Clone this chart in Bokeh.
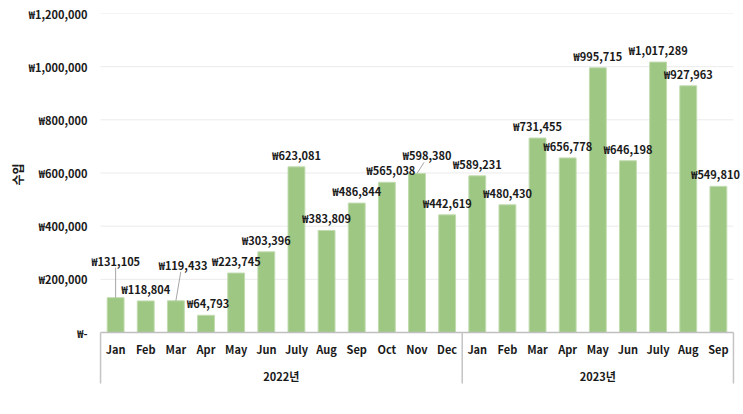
from bokeh.plotting import figure
from bokeh.models import FactorRange, ColumnDataSource, FixedTicker, CategoricalAxis, Title
from bokeh.embed import file_html
from bokeh.resources import INLINE
from bokeh.core.properties import value

# ---- data ----
years = ["2022년"] * 12 + ["2023년"] * 9
months = ["Jan", "Feb", "Mar", "Apr", "May", "Jun", "July", "Aug", "Sep", "Oct", "Nov", "Dec",
          "Jan", "Feb", "Mar", "Apr", "May", "Jun", "July", "Aug", "Sep"]
income = [131105, 118804, 119433, 64793, 223745, 303396, 623081, 383809, 486844, 565038, 598380, 442619,
          589231, 480430, 731455, 656778, 995715, 646198, 1017289, 927963, 549810]
y_ticks = [0, 200000, 400000, 600000, 800000, 1000000, 1200000]
y_tick_labels = ["₩-", "₩200,000", "₩400,000", "₩600,000", "₩800,000", "₩1,000,000", "₩1,200,000"]
y_title = "수입"

# ---- layout helpers (pixels) ----
PAD = 0.3                           # side padding, in categories
FRAME_W, FRAME_H = 651, 380
VALUE_PX = 319                      # pixels from 0 to the top tick
Y_MAX = y_ticks[-1]
units_per_px = Y_MAX / VALUE_PX
y_start = -(FRAME_H - VALUE_PX) * units_per_px
cat_px = FRAME_W / (len(months) + 2 * PAD)

FONT = "Noto Sans CJK KR"
TXT = "#1a1a1a"

factors = list(zip(years, months))
labels = ["₩{:,}".format(v) for v in income]
left_edge = factors[0] + (-0.5,)
right_edge = factors[-1] + (0.5,)

# label placement offsets (px): default is centered, 12px above bar top
label_dx = [0] * len(income)
label_dy = [-12] * len(income)
label_dx[0], label_dy[0] = 0, -37      # Jan 2022 (leader line)
label_dx[2], label_dy[2] = 7, -36      # Mar 2022 (leader line)
label_dx[3] = 2
label_dx[9] = 4
label_dx[10], label_dy[10] = 10, -18   # Nov 2022 (leader line)
label_dx[20] = -3
leader_idx = [0, 2, 10]

src = ColumnDataSource(dict(x=factors, v=income, lab=labels, dx=label_dx, dy=label_dy))

p = figure(x_range=FactorRange(*factors, factor_padding=0, group_padding=0,
                               range_padding=PAD, range_padding_units="absolute"),
           y_range=(y_start, Y_MAX),
           frame_width=FRAME_W, frame_height=FRAME_H,
           output_backend="svg", toolbar_location=None, x_axis_location=None,
           min_border_left=91, min_border_top=13, min_border_right=0, min_border_bottom=0)
p.outline_line_color = None
p.background_fill_color = "white"
p.border_fill_color = "white"
p.xgrid.grid_line_color = None
p.ygrid.grid_line_color = None

# horizontal gridlines over the category span
p.segment(x0=[left_edge] * (len(y_ticks) - 1), x1=[right_edge] * (len(y_ticks) - 1),
          y0=y_ticks[1:], y1=y_ticks[1:], line_color="#ebebeb", line_width=1)

# bars
p.vbar(x="x", top="v", bottom=0, width=0.56, source=src,
       fill_color="#9dc783", line_color="#c2dcb0", line_width=1)

# data labels
p.text(x="x", y="v", text="lab", source=src, x_offset="dx", y_offset="dy",
       text_align="center", text_baseline="middle",
       text_font=value(FONT), text_font_style="bold", text_font_size="11px", text_color=TXT)

# leader lines
lx0, lx1, ly0, ly1 = [], [], [], []
for i in leader_idx:
    lx0.append(factors[i] + (0.0,))
    lx1.append(factors[i] + (label_dx[i] * 0.7 / cat_px,))
    ly0.append(income[i])
    ly1.append(income[i] - (label_dy[i] + 7) * units_per_px)
p.segment(x0=lx0, y0=ly0, x1=lx1, y1=ly1, line_color="#a6a6a6", line_width=1)

# category axis line and group separators spanning both label rows
p.segment(x0=[left_edge], x1=[right_edge], y0=[0], y1=[0], line_color="#bfbfbf", line_width=1.5)
sep_bottom = -51 * units_per_px
sx = [left_edge, factors[11] + (0.5,), right_edge]
p.segment(x0=sx, y0=[0] * 3, x1=sx, y1=[sep_bottom] * 3, line_color="#c4c4c4", line_width=1.5)

# x axis (nested categories), drawn at value 0 inside the frame
xaxis = CategoricalAxis(fixed_location=0)
xaxis.axis_line_color = None
xaxis.major_tick_line_color = None
xaxis.major_tick_out = 0
xaxis.minor_tick_line_color = None
xaxis.separator_line_color = None
xaxis.major_label_standoff = 8
xaxis.major_label_text_font = FONT
xaxis.major_label_text_font_style = "bold"
xaxis.major_label_text_font_size = "11px"
xaxis.major_label_text_color = TXT
xaxis.group_text_font = FONT
xaxis.group_text_font_style = "bold"
xaxis.group_text_font_size = "11px"
xaxis.group_text_color = TXT
p.add_layout(xaxis, "below")

# y axis
ya = p.yaxis[0]
ya.ticker = FixedTicker(ticks=y_ticks)
ya.bounds = (0, Y_MAX)
ya.major_label_overrides = dict(zip(y_ticks, y_tick_labels))
ya.axis_line_color = None
ya.major_tick_line_color = None
ya.major_tick_out = 0
ya.minor_tick_line_color = None
ya.major_label_standoff = 4
ya.major_label_text_font = FONT
ya.major_label_text_font_style = "bold"
ya.major_label_text_font_size = "11px"
ya.major_label_text_color = TXT

# y title, placed beside the middle of the value span 0 .. max
p.add_layout(Title(text=y_title, align="left", offset=208, standoff=0,
                   text_font=FONT, text_font_style="bold", text_font_size="12px",
                   text_color=TXT), "left")

open("out.html", "w").write(file_html(p, INLINE))
